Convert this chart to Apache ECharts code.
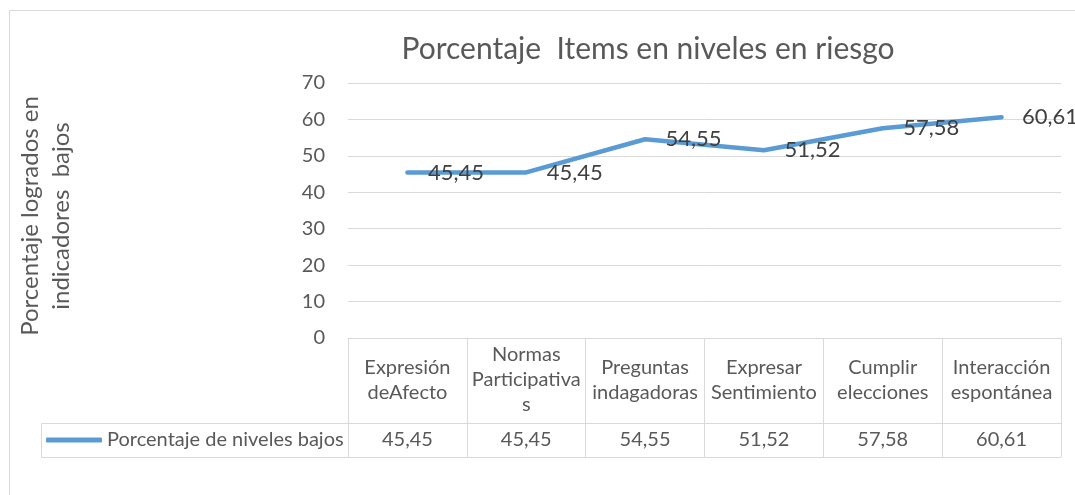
<!DOCTYPE html>
<html>
<head>
<meta charset="utf-8">
<script src="https://cdn.jsdelivr.net/npm/echarts@6/dist/echarts.min.js"></script>
<style>
  html, body { margin: 0; padding: 0; background: #fff; }
  #chart { width: 1075px; height: 495px; }
</style>
</head>
<body>
<div id="chart"></div>
<script>
// datos
var categorias = ['Expresión\ndeAfecto', 'Normas\nParticipativa\ns', 'Preguntas\nindagadoras',
                  'Expresar\nSentimiento', 'Cumplir\nelecciones', 'Interacción\nespontánea'];
var valores = [45.45, 45.45, 54.55, 51.52, 57.58, 60.61];
var ticksY = [0, 10, 20, 30, 40, 50, 60, 70];
var nombreSerie = 'Porcentaje de niveles bajos';

function coma(v) {
    return v.toFixed(2).replace('.', ',');
}

var fuente = 'Lato';
var gris = '#595959';
var linea = '#d9d9d9';

// layout
var gLeft = 348, gRight = 1075 - 1061, gTop = 83, gBottom = 338;
var filaValor = 423, tablaFin = 457;

var chart = echarts.init(document.getElementById('chart'));

var option = {
    backgroundColor: '#fff',
    textStyle: { fontFamily: fuente },
    title: {
        text: 'Porcentaje  Items en niveles en riesgo',
        left: 643,
        top: 29,
        textAlign: 'center',
        textStyle: { fontFamily: fuente, fontSize: 30, fontWeight: 'normal', color: gris }
    },
    legend: {
        left: 41,
        top: 425,
        icon: 'roundRect',
        itemWidth: 56,
        itemHeight: 5,
        itemGap: 0,
        textStyle: { fontFamily: fuente, fontSize: 20, color: gris },
        data: [nombreSerie]
    },
    grid: [
        { left: gLeft, right: gRight, top: gTop, height: gBottom - gTop },
        { left: gLeft, right: gRight, top: gBottom, height: tablaFin - gBottom }
    ],
    xAxis: [
        {
            type: 'category',
            gridIndex: 0,
            data: categorias,
            boundaryGap: true,
            axisLine: { lineStyle: { color: linea, width: 1 } },
            axisTick: { show: false },
            axisLabel: {
                interval: 0,
                margin: 42,
                verticalAlign: 'middle',
                lineHeight: 25,
                fontSize: 20,
                color: gris,
                fontFamily: fuente
            }
        },
        {
            // fila de valores de la tabla
            type: 'category',
            gridIndex: 1,
            data: valores.map(coma),
            boundaryGap: true,
            axisLine: { lineStyle: { color: linea, width: 1 } },
            axisTick: { show: false },
            splitLine: { show: true, lineStyle: { color: linea, width: 1 } },
            axisLabel: {
                interval: 0,
                margin: -17,
                verticalAlign: 'middle',
                fontSize: 20,
                color: gris,
                fontFamily: fuente
            }
        }
    ],
    yAxis: [
        {
            type: 'value',
            gridIndex: 0,
            min: ticksY[0],
            max: ticksY[ticksY.length - 1],
            interval: ticksY[1] - ticksY[0],
            axisLine: { show: false },
            axisTick: { show: false },
            splitLine: { lineStyle: { color: linea, width: 1 } },
            axisLabel: { margin: 23, fontSize: 20, color: gris, fontFamily: fuente }
        },
        {
            type: 'value',
            gridIndex: 1,
            show: false
        }
    ],
    graphic: [
        {   // borde del area del grafico
            type: 'rect',
            shape: { x: 9.5, y: 10.5, width: 1100, height: 520 },
            style: { fill: 'none', stroke: linea, lineWidth: 1 },
            silent: true
        },
        {   // celda de la leyenda
            type: 'rect',
            shape: { x: 41.5, y: filaValor + 0.5, width: gLeft - 41, height: tablaFin - filaValor },
            style: { fill: 'none', stroke: linea, lineWidth: 1 },
            silent: true
        },
        {
            type: 'line',
            shape: { x1: gLeft, y1: filaValor + 0.5, x2: 1061, y2: filaValor + 0.5 },
            style: { stroke: linea, lineWidth: 1 },
            silent: true
        },
        {
            type: 'text',
            x: 46,
            y: 216,
            rotation: Math.PI / 2,
            style: {
                text: 'Porcentaje logrados en\nindicadores  bajos',
                fontFamily: fuente,
                fontSize: 24,
                lineHeight: 31,
                fill: gris,
                align: 'center',
                verticalAlign: 'middle'
            }
        }
    ],
    series: [
        {
            name: nombreSerie,
            type: 'line',
            xAxisIndex: 0,
            yAxisIndex: 0,
            data: valores,
            showSymbol: true,
            symbol: 'circle',
            symbolSize: 1,
            itemStyle: { color: '#5b9bd5' },
            lineStyle: { color: '#5b9bd5', width: 4.5, cap: 'round', join: 'round' },
            label: {
                show: true,
                position: 'right',
                distance: 20,
                formatter: function (p) { return coma(p.value); },
                fontFamily: fuente,
                fontSize: 22,
                color: '#404040'
            }
        }
    ]
};

chart.setOption(option);
</script>
</body>
</html>
